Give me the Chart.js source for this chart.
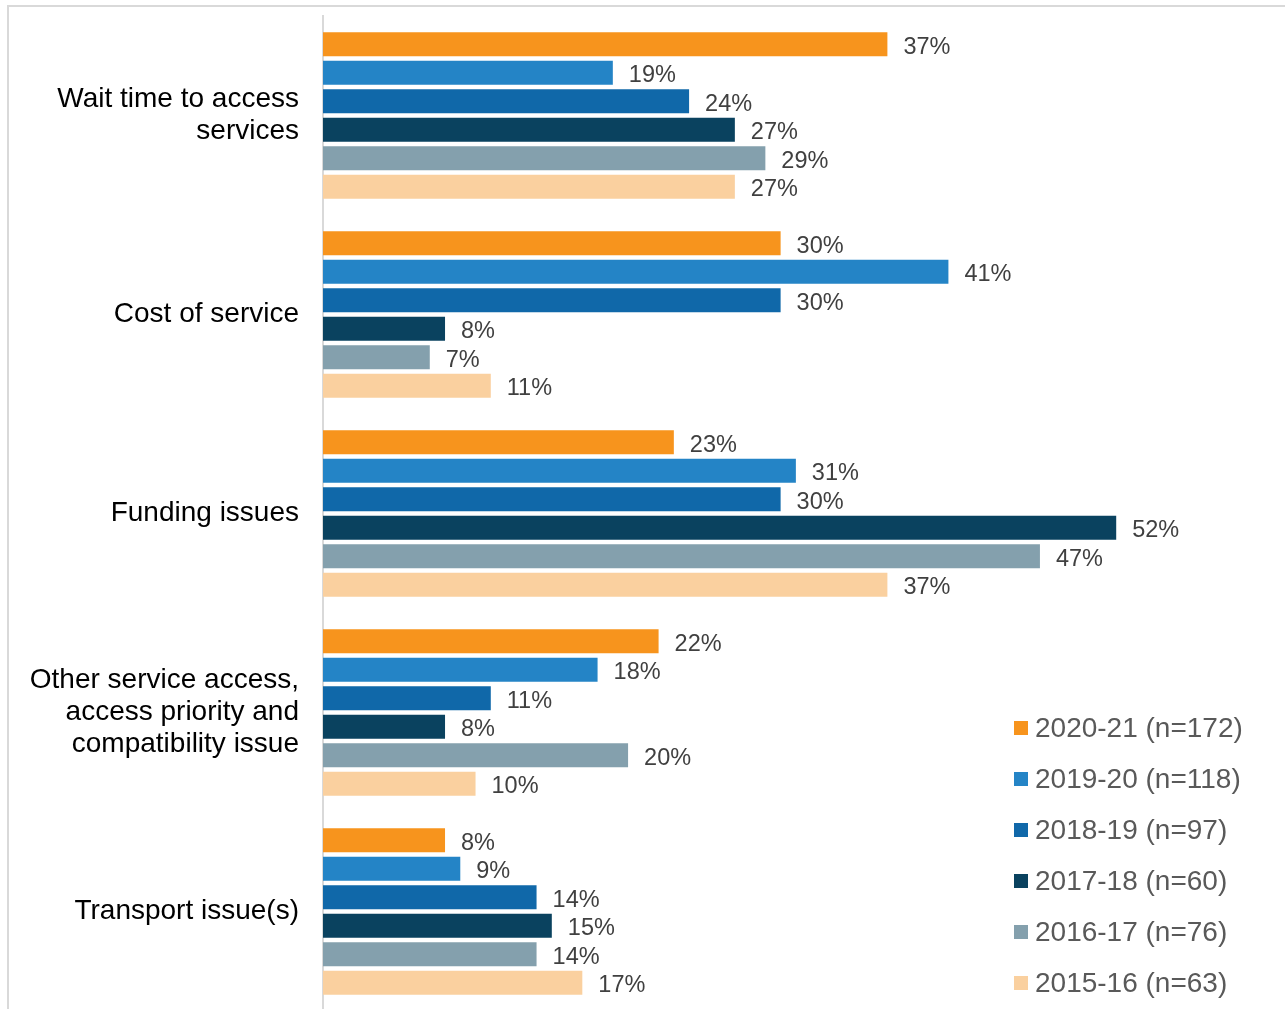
<!DOCTYPE html>
<html>
<head>
<meta charset="utf-8">
<script src="https://cdn.jsdelivr.net/npm/chart.js@4"></script>
<style>
  html, body { margin: 0; padding: 0; background: #fff; overflow: hidden; }
  #wrap { position: relative; width: 1285px; height: 1020px; }
</style>
</head>
<body>
<div id="wrap"><canvas id="myChart"></canvas></div>
<script>
// categories (multi-line labels) and yearly survey results, in %
const categories = [
  ['Wait time to access', 'services'],
  'Cost of service',
  'Funding issues',
  ['Other service access,', 'access priority and', 'compatibility issue'],
  'Transport issue(s)'
];
const seriesNames = [
  '2020-21 (n=172)',
  '2019-20 (n=118)',
  '2018-19 (n=97)',
  '2017-18 (n=60)',
  '2016-17 (n=76)',
  '2015-16 (n=63)'
];
const y2020 = [37, 30, 23, 22, 8];
const y2019 = [19, 41, 31, 18, 9];
const y2018 = [24, 30, 30, 11, 14];
const y2017 = [27, 8, 52, 8, 15];
const y2016 = [29, 7, 47, 20, 14];
const y2015 = [27, 11, 37, 10, 17];
const colors = ['#F7941D', '#2484C6', '#1068A9', '#0A425F', '#84A0AD', '#FAD09F'];

const seriesValues = [y2020, y2019, y2018, y2017, y2016, y2015];
const FONT = '"Liberation Sans", Arial, sans-serif';

// outer frame around the whole figure
const framePlugin = {
  id: 'frame',
  beforeDraw(chart) {
    const ctx = chart.ctx;
    ctx.save();
    ctx.strokeStyle = '#D9D9D9';
    ctx.lineWidth = 2;
    ctx.strokeRect(8, 6, 1400, 1200);
    ctx.restore();
  }
};

// percentage labels at the end of each bar
const valueLabels = {
  id: 'valueLabels',
  afterDatasetsDraw(chart) {
    const ctx = chart.ctx;
    ctx.save();
    ctx.font = '23.5px ' + FONT;
    ctx.fillStyle = '#404040';
    ctx.textAlign = 'left';
    ctx.textBaseline = 'middle';
    chart.data.datasets.forEach((ds, i) => {
      chart.getDatasetMeta(i).data.forEach((bar, j) => {
        ctx.fillText(ds.data[j] + '%', bar.x + 16, bar.y + 3);
      });
    });
    ctx.restore();
  }
};

// legend stacked in the lower right corner
const sideLegend = {
  id: 'sideLegend',
  afterDraw(chart) {
    const ctx = chart.ctx;
    ctx.save();
    ctx.font = '28px ' + FONT;
    ctx.textBaseline = 'middle';
    chart.data.datasets.forEach((ds, i) => {
      const y = 728 + i * 51;
      ctx.fillStyle = ds.backgroundColor;
      ctx.fillRect(1014, y - 7, 14, 14);
      ctx.fillStyle = '#595959';
      ctx.fillText(ds.label, 1035, y + 1);
    });
    ctx.restore();
  }
};

const ctx = document.getElementById('myChart').getContext('2d');
new Chart(ctx, {
  type: 'bar',
  data: {
    labels: categories,
    datasets: seriesNames.map((name, i) => ({
      label: name,
      data: seriesValues[i],
      backgroundColor: colors[i],
      barPercentage: 0.84,
      categoryPercentage: 0.86
    }))
  },
  options: {
    indexAxis: 'y',
    responsive: true,
    maintainAspectRatio: false,
    animation: false,
    layout: { padding: { top: 16, bottom: 9, left: 0, right: 1 } },
    plugins: {
      legend: { display: false },
      tooltip: { enabled: false }
    },
    scales: {
      x: {
        min: 0,
        max: 63,
        display: false
      },
      y: {
        grid: { display: false, drawTicks: false },
        border: { display: true, color: '#D9D9D9', width: 2 },
        ticks: {
          color: '#000',
          padding: 24,
          font: { size: 28, family: FONT, lineHeight: 1.15 }
        },
        afterFit(scale) {
          scale.width = 323;
          scale.paddingTop = 0;
          scale.paddingBottom = 0;
        }
      }
    }
  },
  plugins: [framePlugin, valueLabels, sideLegend]
});
</script>
</body>
</html>
